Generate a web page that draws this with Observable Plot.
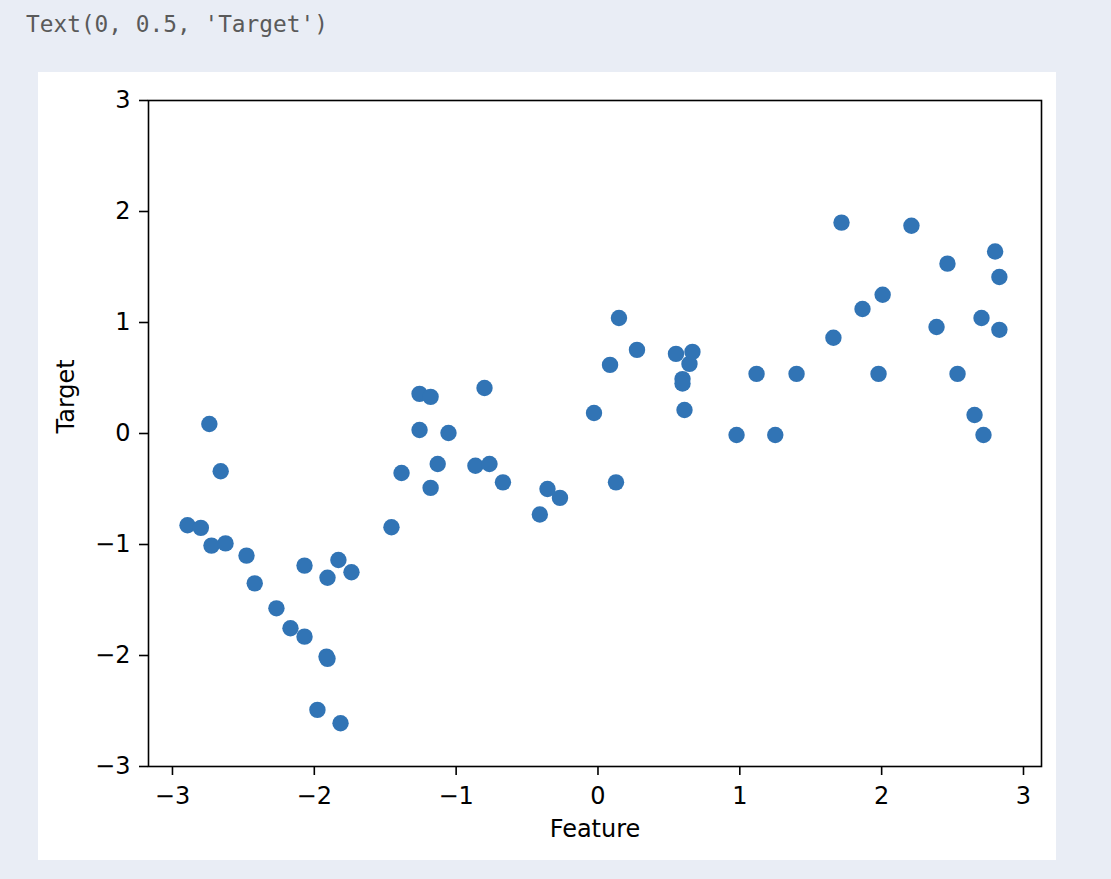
<!DOCTYPE html>
<html>
<head>
<meta charset="utf-8">
<script src="https://cdn.jsdelivr.net/npm/d3@7"></script>
<script src="https://cdn.jsdelivr.net/npm/@observablehq/plot@0.6"></script>
<style>
  html, body { margin: 0; padding: 0; }
  body { width: 1111px; height: 879px; background: #e9edf5; position: relative; overflow: hidden; }
  #out { position: absolute; left: 26px; top: 11px; font-family: "DejaVu Sans Mono", monospace; font-size: 22.8px; color: #5a5a5a; white-space: pre; }
  #panel { position: absolute; left: 38px; top: 72px; width: 1018px; height: 788px; background: #ffffff; }
</style>
</head>
<body>
<div id="out">Text(0, 0.5, 'Target')</div>
<div id="panel"></div>
<script>
const featureX = [-2.894, -2.80, -2.74, -2.725, -2.66, -2.626, -2.478, -2.42, -2.267, -2.168,
  -2.069, -2.069, -1.978, -1.914, -1.907, -1.907, -1.83, -1.815, -1.738, -1.456,
  -1.385, -1.258, -1.258, -1.18, -1.18, -1.13, -1.054, -0.864, -0.80, -0.765,
  -0.67, -0.41, -0.356, -0.268, -0.028, 0.085, 0.127, 0.148, 0.275, 0.55,
  0.596, 0.596, 0.645, 0.666, 0.61, 0.977, 1.118, 1.25, 1.40, 1.66,
  1.717, 1.865, 1.978, 2.007, 2.21, 2.387, 2.464, 2.535, 2.655, 2.704,
  2.718, 2.80, 2.83, 2.83];
const targetY = [-0.826, -0.85, 0.086, -1.01, -0.34, -0.99, -1.10, -1.35, -1.575, -1.755,
  -1.83, -1.19, -2.49, -2.01, -2.03, -1.30, -1.14, -2.61, -1.25, -0.844,
  -0.356, 0.357, 0.032, 0.33, -0.49, -0.275, 0.005, -0.29, 0.41, -0.275,
  -0.44, -0.73, -0.50, -0.58, 0.185, 0.618, -0.44, 1.04, 0.753, 0.717,
  0.49, 0.45, 0.627, 0.735, 0.212, -0.014, 0.537, -0.014, 0.537, 0.862,
  1.90, 1.122, 0.537, 1.25, 1.872, 0.96, 1.53, 0.537, 0.167, 1.04,
  -0.014, 1.64, 1.41, 0.934];
const xTicks = [-3, -2, -1, 0, 1, 2, 3];
const yTicks = [-3, -2, -1, 0, 1, 2, 3];
const xLabel = "Feature";
const yLabel = "Target";

const data = featureX.map((x, i) => ({x, y: targetY[i]}));
const fmt = d3.format("d");

const chart = Plot.plot({
  width: 1018,
  height: 788,
  marginLeft: 110,
  marginRight: 15,
  marginTop: 28,
  marginBottom: 94,
  style: {fontFamily: "'DejaVu Sans', sans-serif", fontSize: "24px", color: "#000", background: "#ffffff", overflow: "visible"},
  x: {domain: [-3.169, 3.127]},
  y: {domain: [-3, 3]},
  marks: [
    Plot.dot(data, {x: "x", y: "y", r: 8.2, fill: "#3174b5"}),
    Plot.frame({stroke: "#000", strokeWidth: 1.6}),
    Plot.axisX({ticks: xTicks, tickFormat: fmt, tickSize: 9, tickPadding: 11, strokeWidth: 1.6, label: null, fontSize: 24}),
    Plot.axisY({ticks: yTicks, tickFormat: fmt, tickSize: 9, tickPadding: 9, strokeWidth: 1.6, label: null, fontSize: 24}),
    Plot.text([xLabel], {frameAnchor: "bottom", dy: 70, text: d => d, fontSize: 24, fill: "#000"}),
    Plot.text([yLabel], {frameAnchor: "left", dx: -82, rotate: -90, text: d => d, fontSize: 24, fill: "#000"})
  ]
});
document.getElementById("panel").appendChild(chart);
</script>
</body>
</html>
